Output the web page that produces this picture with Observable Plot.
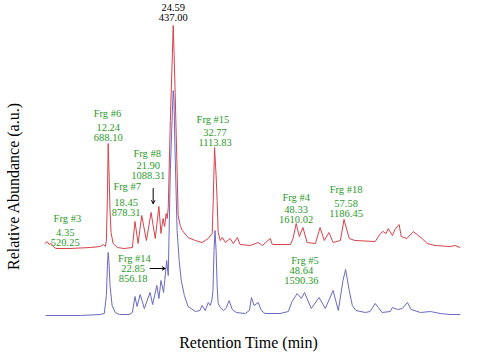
<!DOCTYPE html>
<html><head><meta charset="utf-8">
<script src="https://cdn.jsdelivr.net/npm/d3@7"></script>
<script src="https://cdn.jsdelivr.net/npm/@observablehq/plot@0.6"></script>
<style>body{margin:0;background:#fff;}</style>
</head><body><div id="chart"></div>
<script>
// Upper (red) trace: retention time (min) and relative abundance (a.u.)
const redTime = [0.1,0.5,0.9,1.3,1.7,2.2,4.9,8.8,10.7,11.3,11.7,11.9,12.1,12.25,12.4,12.6,12.8,13.2,14.0,15.3,16.9,17.4,18.0,18.7,19.6,20.5,21.3,22.0,22.4,22.8,23.1,23.4,23.6,23.8,24.2,24.6,24.75,24.9,25.1,25.5,25.7,26.1,26.5,27.6,29.0,30.3,31.5,32.25,32.45,32.7,33.0,33.2,33.4,33.8,34.2,34.8,35.7,36.3,37.1,37.6,39.6,41.1,41.9,43.4,43.8,47.3,47.8,48.4,49.0,49.7,50.5,52.1,53.0,53.8,54.7,55.5,56.9,57.6,58.6,59.7,63.6,64.6,65.1,65.7,66.1,66.9,67.4,68.0,68.2,68.6,69.7,70.9,71.9,72.6,73.6,75.1,78.0,79.0,79.9];
const redAbund = [5,7,4,5,2,0,0,1,2,4,2,8,53,105,78,38,16,5,1,0,1,27,5,33,8,36,10,42,15,30,22,35,30,41,128,195,223,198,161,78,33,23,18,11,8,6,10,15,48,101,73,48,16,8,11,6,10,5,11,4,3,6,3,10,4,4,10,25,12,21,6,5,21,8,16,6,8,29,10,8,7,15,17,15,20,13,19,23,24,12,10,17,13,10,5,3,2,3,1];
// Lower (blue) trace
const blueTime = [0.3,6.9,10.7,11.5,11.9,12.1,12.25,12.4,12.6,13.0,13.6,14.4,16.3,16.9,17.4,17.8,18.4,19.2,20.3,20.8,21.6,22.0,22.4,22.9,23.5,23.8,24.2,24.6,24.75,24.9,25.1,25.5,25.9,26.3,26.9,27.6,29.0,29.9,30.3,30.9,31.5,31.9,32.2,32.4,32.6,32.8,33.0,33.2,33.4,33.8,34.4,34.9,35.5,36.1,36.9,38.6,39.4,39.8,40.3,41.1,41.7,42.4,45.3,46.9,47.6,48.6,49.4,50.0,51.3,52.8,54.0,55.5,56.5,57.4,57.9,58.6,59.2,59.9,61.7,62.6,63.6,64.2,64.9,66.5,66.9,67.9,68.8,69.8,70.5,72.3,74.2,76.1,78.0,79.9];
const blueAbund = [1,1,2,3,21,51,64,54,31,11,4,2,2,4,20,10,22,8,24,12,31,18,36,24,56,41,146,206,226,216,166,86,56,36,21,10,5,6,11,6,14,11,17,26,66,86,66,31,13,9,6,8,16,7,4,3,6,19,11,14,6,3,3,5,15,23,18,24,8,19,8,26,6,36,47,26,11,6,4,5,13,9,4,5,9,7,8,14,7,4,5,3,2,2];
const redOffset = 68; // vertical stacking of the upper trace

// Fragment annotations
const frgNames  = ["Frg #3","Frg #6","Frg #7","Frg #8","Frg #15","Frg #4","Frg #18","Frg #14","Frg #5"];
const frgRT     = ["4.35","12.24","18.45","21.90","32.77","48.33","57.58","22.85","48.64"];
const frgMass   = ["520.25","688.10","878.31","1088.31","1113.83","1610.02","1186.45","856.18","1590.36"];
const nameT = [4.4,12.1,15.9,19.75,32.4,48.4,58.0,17.3,50.1];
const nameV = [98,203,130,163,197,119,127,58,56];
const numT  = [4.0,12.25,15.7,19.95,32.8,48.4,58.0,17.05,49.4];
const numV  = [84,189,114,151,184,107,113,48,46];
const mainRT = ["24.59"], mainMass = ["437.00"], mainT = [24.75], mainV = [309];
const arrowX1 = [20.9,20.3], arrowY1 = [128,48], arrowX2 = [20.9,23.2], arrowY2 = [113,48];

const red = redTime.map((t,i)=>({t, a: redAbund[i] + redOffset}));
const blue = blueTime.map((t,i)=>({t, a: blueAbund[i]}));
const annot = frgNames.map((n,i)=>({n, rt: frgRT[i], m: frgMass[i], nt: nameT[i], nv: nameV[i], ut: numT[i], uv: numV[i]}));
const mainPeak = mainRT.map((r,i)=>({r, m: mainMass[i], t: mainT[i], v: mainV[i]}));
const arrows = arrowX1.map((x,i)=>({x1:x, y1:arrowY1[i], x2:arrowX2[i], y2:arrowY2[i]}));

const green = "#2a9a2a";
const fs = 10.5;
const chart = Plot.plot({
  width: 480, height: 360,
  marginLeft: 44, marginRight: 20, marginTop: 16, marginBottom: 44,
  x: {domain: [0, 80], axis: null},
  y: {domain: [0, 300], axis: null},
  style: {fontFamily: "Liberation Serif", background: "white"},
  marks: [
    Plot.line(blue, {x: "t", y: "a", stroke: "#6a6ac2", strokeWidth: 1}),
    Plot.line(red, {x: "t", y: "a", stroke: "#d8414b", strokeWidth: 1}),
    Plot.text(annot, {x: "nt", y: "nv", text: "n", fill: green, fontSize: fs}),
    Plot.text(annot, {x: "ut", y: "uv", text: "rt", fill: green, fontSize: fs}),
    Plot.text(annot, {x: "ut", y: "uv", text: "m", fill: green, fontSize: fs, dy: 10.5}),
    Plot.text(mainPeak, {x: "t", y: "v", text: "r", fill: "black", fontSize: fs}),
    Plot.text(mainPeak, {x: "t", y: "v", text: "m", fill: "black", fontSize: fs, dy: 10.5}),
    Plot.arrow(arrows, {x1: "x1", y1: "y1", x2: "x2", y2: "y2", stroke: "black", strokeWidth: 1, headLength: 5}),
    Plot.text(["Retention Time (min)"], {frameAnchor: "bottom", dx: -4, dy: 31, fontSize: 16, fill: "black"}),
    Plot.text(["Relative Abundance (a.u.)"], {frameAnchor: "left", textAnchor: "middle", rotate: -90, dx: -31, dy: 20, fontSize: 16, fill: "black"})
  ]
});
document.getElementById("chart").append(chart);
</script>
</body></html>
